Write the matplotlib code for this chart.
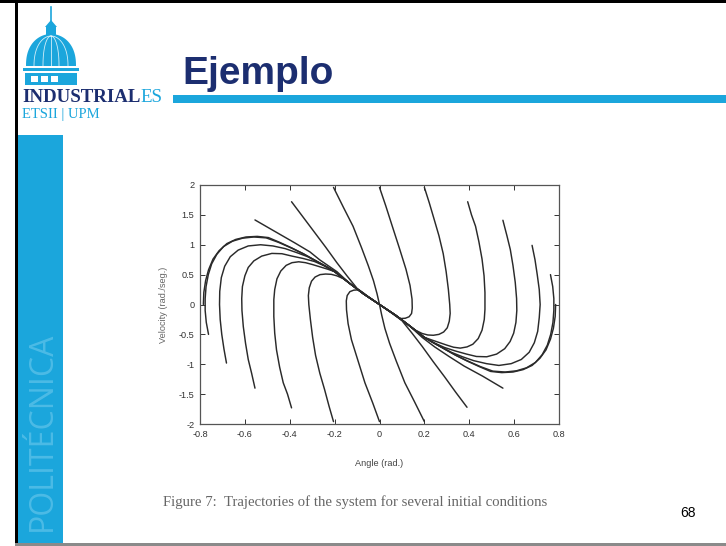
import numpy as np
import matplotlib
matplotlib.use('Agg')
import matplotlib.pyplot as plt
from matplotlib.patches import Rectangle, Polygon

# ---------------- data (angle [rad], velocity [rad/s]) ----------------
# trajectories starting on the lower / left part of the boundary
traj_l0 = [(-0.785, 0.00), (-0.783, 0.20), (-0.775, 0.40), (-0.762, 0.58), (-0.742, 0.76), (-0.715, 0.90),
           (-0.680, 1.02), (-0.640, 1.09), (-0.595, 1.13), (-0.545, 1.14), (-0.495, 1.12), (-0.445, 1.04),
           (-0.390, 0.945), (-0.340, 0.85), (-0.290, 0.745), (-0.245, 0.65), (-0.200, 0.55), (-0.130, 0.345),
           (-0.070, 0.175), (0.0, 0.0)]
traj_l1 = [(-0.762, -0.50), (-0.772, -0.30), (-0.777, -0.10), (-0.777, 0.10), (-0.773, 0.30), (-0.763, 0.50),
           (-0.748, 0.68), (-0.725, 0.84), (-0.695, 0.97), (-0.655, 1.06), (-0.610, 1.11), (-0.560, 1.13),
           (-0.505, 1.115), (-0.450, 1.04), (-0.390, 0.94), (-0.340, 0.85), (-0.290, 0.745), (-0.245, 0.65),
           (-0.200, 0.55), (-0.130, 0.345), (-0.070, 0.175), (0.0, 0.0)]
traj_l2 = [(-0.682, -0.98), (-0.693, -0.75), (-0.703, -0.50), (-0.710, -0.25), (-0.713, 0.00), (-0.712, 0.22),
           (-0.705, 0.45), (-0.690, 0.64), (-0.665, 0.80), (-0.630, 0.91), (-0.585, 0.98), (-0.530, 1.00),
           (-0.475, 0.98), (-0.420, 0.935), (-0.370, 0.87), (-0.320, 0.80), (-0.270, 0.70), (-0.235, 0.63),
           (-0.200, 0.55), (-0.130, 0.345), (-0.070, 0.175), (0.0, 0.0)]
traj_l3 = [(-0.555, -1.40), (-0.570, -1.15), (-0.585, -0.92), (-0.597, -0.65), (-0.607, -0.37), (-0.613, -0.10),
           (-0.614, 0.10), (-0.611, 0.30), (-0.600, 0.48), (-0.585, 0.62), (-0.560, 0.73), (-0.525, 0.81),
           (-0.480, 0.855), (-0.435, 0.85), (-0.390, 0.81), (-0.340, 0.77), (-0.290, 0.72), (-0.245, 0.645),
           (-0.200, 0.55), (-0.130, 0.345), (-0.070, 0.175), (0.0, 0.0)]
traj_l4 = [(-0.392, -1.73), (-0.410, -1.50), (-0.429, -1.31), (-0.445, -1.05), (-0.459, -0.76), (-0.467, -0.48),
           (-0.471, -0.20), (-0.471, 0.08), (-0.467, 0.25), (-0.457, 0.43), (-0.440, 0.56), (-0.416, 0.655),
           (-0.390, 0.70), (-0.360, 0.715), (-0.330, 0.70), (-0.300, 0.67), (-0.265, 0.63), (-0.230, 0.59),
           (-0.200, 0.55), (-0.130, 0.345), (-0.070, 0.175), (0.0, 0.0)]
traj_l5 = [(-0.205, -1.96), (-0.225, -1.70), (-0.245, -1.42), (-0.266, -1.15), (-0.285, -0.85), (-0.298, -0.55),
           (-0.308, -0.25), (-0.315, 0.00), (-0.317, 0.15), (-0.313, 0.28), (-0.303, 0.39), (-0.287, 0.46),
           (-0.265, 0.50), (-0.240, 0.51), (-0.215, 0.505), (-0.190, 0.48), (-0.160, 0.43), (-0.130, 0.345),
           (-0.070, 0.175), (0.0, 0.0)]
traj_l6 = [(0.0, -1.96), (-0.030, -1.65), (-0.065, -1.31), (-0.095, -0.95), (-0.125, -0.59), (-0.140, -0.32),
           (-0.147, -0.09), (-0.148, 0.06), (-0.144, 0.15), (-0.132, 0.215), (-0.115, 0.24), (-0.095, 0.245),
           (-0.080, 0.215), (-0.050, 0.13), (0.0, 0.0)]
traj_l7 = [(0.200, -1.96), (0.155, -1.62), (0.113, -1.31), (0.075, -0.95), (0.045, -0.65), (0.024, -0.40),
           (0.010, -0.18), (0.0, 0.0)]
traj_l8 = [(0.390, -1.72), (0.340, -1.47), (0.290, -1.21), (0.240, -0.96), (0.190, -0.70), (0.145, -0.48),
           (0.100, -0.27), (0.050, -0.13), (0.0, 0.0)]
traj_l9 = [(0.550, -1.40), (0.460, -1.20), (0.377, -1.03), (0.310, -0.87), (0.246, -0.71), (0.190, -0.55),
           (0.130, -0.345), (0.070, -0.175), (0.0, 0.0)]

# trajectories starting on the upper / right part of the boundary
traj_r0 = [(0.785, 0.00), (0.783, -0.20), (0.775, -0.40), (0.762, -0.58), (0.742, -0.76), (0.715, -0.90),
           (0.680, -1.02), (0.640, -1.09), (0.595, -1.13), (0.545, -1.14), (0.495, -1.12), (0.445, -1.04),
           (0.390, -0.945), (0.340, -0.85), (0.290, -0.745), (0.245, -0.65), (0.200, -0.55), (0.130, -0.345),
           (0.070, -0.175), (0.0, 0.0)]
traj_r1 = [(0.762, 0.50), (0.772, 0.30), (0.777, 0.10), (0.777, -0.10), (0.773, -0.30), (0.763, -0.50),
           (0.748, -0.68), (0.725, -0.84), (0.695, -0.97), (0.655, -1.06), (0.610, -1.11), (0.560, -1.13),
           (0.505, -1.115), (0.450, -1.04), (0.390, -0.94), (0.340, -0.85), (0.290, -0.745), (0.245, -0.65),
           (0.200, -0.55), (0.130, -0.345), (0.070, -0.175), (0.0, 0.0)]
traj_r2 = [(0.680, 0.99), (0.693, 0.75), (0.703, 0.50), (0.712, 0.25), (0.716, 0.00), (0.712, -0.22),
           (0.705, -0.45), (0.690, -0.64), (0.667, -0.80), (0.632, -0.92), (0.587, -0.99), (0.532, -1.02),
           (0.477, -0.99), (0.420, -0.94), (0.370, -0.875), (0.320, -0.80), (0.270, -0.70), (0.235, -0.63),
           (0.200, -0.55), (0.130, -0.345), (0.070, -0.175), (0.0, 0.0)]
traj_r3 = [(0.550, 1.41), (0.568, 1.15), (0.583, 0.92), (0.595, 0.65), (0.605, 0.37), (0.611, 0.10),
           (0.612, -0.10), (0.608, -0.30), (0.598, -0.48), (0.582, -0.62), (0.558, -0.74), (0.522, -0.83),
           (0.478, -0.875), (0.432, -0.87), (0.388, -0.83), (0.340, -0.78), (0.290, -0.72), (0.245, -0.645),
           (0.200, -0.55), (0.130, -0.345), (0.070, -0.175), (0.0, 0.0)]
traj_r4 = [(0.393, 1.72), (0.410, 1.50), (0.428, 1.31), (0.443, 1.05), (0.457, 0.76), (0.466, 0.48),
           (0.470, 0.20), (0.470, -0.08), (0.467, -0.25), (0.457, -0.43), (0.440, -0.57), (0.416, -0.665),
           (0.390, -0.71), (0.360, -0.73), (0.330, -0.715), (0.300, -0.68), (0.265, -0.635), (0.230, -0.59),
           (0.200, -0.55), (0.130, -0.345), (0.070, -0.175), (0.0, 0.0)]
traj_r5 = [(0.200, 1.96), (0.222, 1.70), (0.244, 1.42), (0.265, 1.15), (0.284, 0.85), (0.297, 0.55),
           (0.307, 0.25), (0.313, 0.00), (0.315, -0.15), (0.311, -0.28), (0.302, -0.39), (0.286, -0.46),
           (0.265, -0.50), (0.240, -0.515), (0.215, -0.51), (0.190, -0.485), (0.160, -0.43), (0.130, -0.345),
           (0.070, -0.175), (0.0, 0.0)]
traj_r6 = [(0.0, 1.96), (0.028, 1.65), (0.057, 1.31), (0.088, 0.95), (0.118, 0.59), (0.136, 0.32),
           (0.145, 0.09), (0.146, -0.06), (0.143, -0.15), (0.132, -0.205), (0.115, -0.23), (0.095, -0.235),
           (0.080, -0.21), (0.050, -0.13), (0.0, 0.0)]
traj_r7 = [(-0.205, 1.96), (-0.160, 1.62), (-0.118, 1.31), (-0.080, 0.95), (-0.050, 0.65), (-0.027, 0.40),
           (-0.011, 0.18), (0.0, 0.0)]
traj_r8 = [(-0.392, 1.72), (-0.340, 1.46), (-0.290, 1.21), (-0.240, 0.96), (-0.190, 0.70), (-0.145, 0.48),
           (-0.100, 0.27), (-0.050, 0.13), (0.0, 0.0)]
traj_r9 = [(-0.555, 1.415), (-0.465, 1.22), (-0.377, 1.03), (-0.310, 0.88), (-0.266, 0.746), (-0.190, 0.55),
           (-0.130, 0.345), (-0.070, 0.175), (0.0, 0.0)]

trajectories = [traj_l0, traj_l1, traj_l2, traj_l3, traj_l4, traj_l5, traj_l6, traj_l7, traj_l8, traj_l9,
                traj_r0, traj_r1, traj_r2, traj_r3, traj_r4, traj_r5, traj_r6, traj_r7, traj_r8, traj_r9]

x_ticks = [-0.8, -0.6, -0.4, -0.2, 0, 0.2, 0.4, 0.6, 0.8]
x_tick_labels = ['-0.8', '-0.6', '-0.4', '-0.2', '0', '0.2', '0.4', '0.6', '0.8']
y_ticks = [-2, -1.5, -1, -0.5, 0, 0.5, 1, 1.5, 2]
y_tick_labels = ['-2', '-1.5', '-1', '-0.5', '0', '0.5', '1', '1.5', '2']

title_text = 'Ejemplo'
x_label = 'Angle (rad.)'
y_label = 'Velocity (rad./seg.)'
caption = 'Figure 7:  Trajectories of the system for several initial conditions'
page_number = '68'

# ---------------- figure ----------------
W, H = 726, 546
fig = plt.figure(figsize=(W / 100, H / 100), dpi=100)
fig.patch.set_facecolor('white')

bg = fig.add_axes([0, 0, 1, 1])
bg.set_xlim(0, W)
bg.set_ylim(H, 0)
bg.axis('off')

BLUE = '#1ba6dc'
NAVY = '#1c2e70'

# slide border
bg.add_patch(Rectangle((0, 0), W, 3, color='black', lw=0))
bg.add_patch(Rectangle((15, 0), 3, H, color='black', lw=0))
bg.add_patch(Rectangle((15, 543), W, 3, color='#8a8a8a', lw=0))

# left vertical bar
bg.add_patch(Rectangle((18, 135), 45, 408, color=BLUE, lw=0))
bg.text(42, 531, 'POLITÉCNICA', rotation=90, color='#4cbbe6', fontsize=23,
        family='Open Sans', ha='center', va='bottom')

# logo dome
cx, base_y = 51, 66
t = np.linspace(0, np.pi, 60)
dome = np.column_stack([cx + 25 * np.cos(t), base_y - 32 * np.sin(t) ** 0.85])
bg.add_patch(Polygon(dome, closed=True, color=BLUE, lw=0))
for a in [8, 17]:
    for s in [-1, 1]:
        rib = np.column_stack([cx + s * a * np.sin(np.linspace(0, np.pi / 2, 20)),
                               base_y - 30 * np.cos(np.linspace(0, np.pi / 2, 20)) ** 0.9])
        bg.plot(rib[:, 0], rib[:, 1], color='white', lw=0.6, alpha=0.8)
bg.plot([cx, cx], [base_y - 30, base_y], color='white', lw=0.6, alpha=0.8)
bg.add_patch(Rectangle((46, 26), 10, 9, color=BLUE, lw=0))
bg.add_patch(Polygon([(45, 27), (51, 20), (57, 27)], closed=True, color=BLUE, lw=0))
bg.plot([51, 51], [7, 22], color=BLUE, lw=1.2)
bg.add_patch(Rectangle((23, 68), 56, 3, color=BLUE, lw=0))
bg.add_patch(Rectangle((25, 73), 52, 12, color=BLUE, lw=0))
for wx in [31, 41, 51]:
    bg.add_patch(Rectangle((wx, 76), 7, 6, color='white', lw=0))

# logo text
t1 = bg.text(22, 102, 'INDUSTRIAL', family='Liberation Serif', fontweight='bold',
             fontsize=13.6, color=NAVY, ha='left', va='baseline')
fig.canvas.draw()
bb = t1.get_window_extent()
x_end = bg.transData.inverted().transform((bb.x1, bb.y0))[0]
bg.text(x_end, 102, 'ES', family='Liberation Serif', fontsize=13.6, color=BLUE,
        ha='left', va='baseline')
bg.text(22, 118, 'ETSII | UPM', family='Liberation Serif', fontsize=10.5, color=BLUE,
        ha='left', va='baseline')

# title and bar
bg.add_patch(Rectangle((173, 95), W - 173, 8, color=BLUE, lw=0))
bg.text(182, 84, title_text, family='Liberation Sans', fontweight='bold', fontsize=28,
        color=NAVY, ha='left', va='baseline')

# caption and page number
bg.text(163, 506, caption, family='Liberation Serif', fontsize=10.6, color='#666666',
        ha='left', va='baseline')
bg.text(688, 517, page_number, family='Liberation Sans', fontsize=10, color='black',
        ha='center', va='baseline')

# ---------------- chart ----------------
ax = fig.add_axes([200 / W, 1 - 424 / H, 359 / W, 239 / H])
for tr in trajectories:
    arr = np.array(tr)
    ax.plot(arr[:, 0], arr[:, 1], color='#2a2a2a', lw=1.05, solid_joinstyle='round',
            solid_capstyle='round')

ax.set_xlim(-0.8, 0.8)
ax.set_ylim(-2, 2)
ax.set_xticks(x_ticks)
ax.set_xticklabels(x_tick_labels)
ax.set_yticks(y_ticks)
ax.set_yticklabels(y_tick_labels)
ax.tick_params(direction='in', length=3.5, width=0.7, top=True, right=True, labelsize=6.6,
               colors='#333333', pad=4)
for lab in ax.get_xticklabels() + ax.get_yticklabels():
    lab.set_family('Liberation Sans')
for sp in ax.spines.values():
    sp.set_color('#555555')
    sp.set_linewidth(0.9)
ax.set_xlabel(x_label, fontsize=6.6, color='#444444', family='Liberation Sans', labelpad=15)
ax.set_ylabel(y_label, fontsize=6.6, color='#666666', family='Liberation Sans', labelpad=8)

fig.savefig('out.png', dpi=100, facecolor='white')
